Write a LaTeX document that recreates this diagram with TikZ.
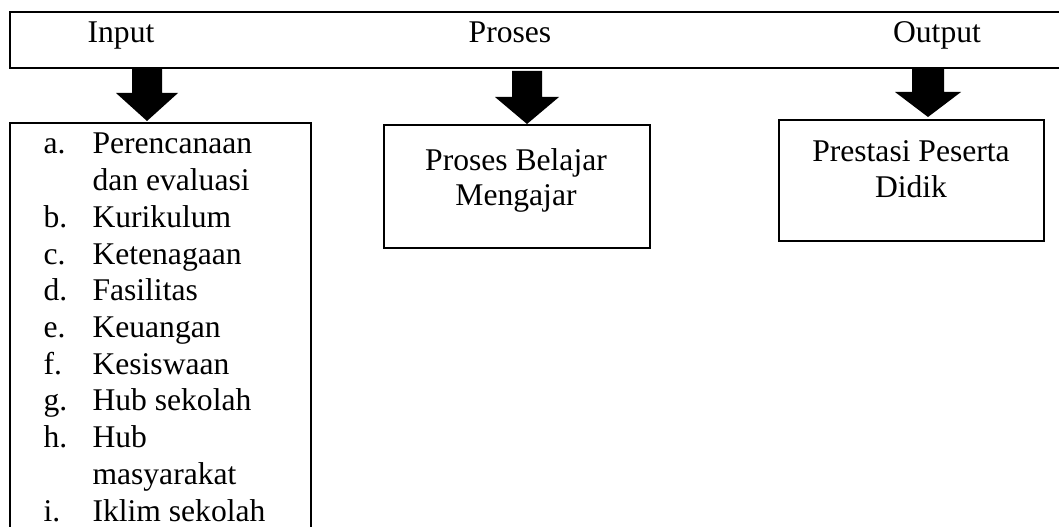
\documentclass[tikz,border=0pt]{standalone}
\usepackage{fontspec}
\setmainfont{Liberation Serif}
\newcommand\fatarr[6]{% center x, top y, head y, tip y, half shaft, half head
  \fill[black] (#1-#5,#2) -- (#1+#5,#2) -- (#1+#5,#3) -- (#1+#6,#3) -- (#1,#4)
    -- (#1-#6,#3) -- (#1-#5,#3) -- cycle;}
\begin{document}
\begin{tikzpicture}[x=0.75pt,y=-0.75pt,line width=0.8pt,
  txt/.style={font=\fontsize{23.7}{27.5}\selectfont, inner sep=0pt, anchor=base},
  item/.style={txt, anchor=base west},
  boxstyle/.style={draw, line width=1.2pt, inner sep=0pt, anchor=north west}]
\useasboundingbox (0,0) rectangle (1059,527);
\fill[white] (0,0) rectangle (1059,527);
% header band
\draw (1059,12) -- (10,12) -- (10,68) -- (1059,68);
\node[txt] (hin) at (121,43) {Input};
\node[txt] (hpr) at (510,43) {Proses};
\node[txt] (hout) at (937,43) {Output};
% arrows
\fatarr{147}{68}{93}{121}{15}{31}
\fatarr{527}{71}{97}{124}{15}{32}
\fatarr{928}{68}{92}{117}{16}{33}
% input box (open at the bottom)
\draw (10,528) -- (10,123) -- (311,123) -- (311,528);
\foreach \l/\t/\y in {a./Perencanaan/0, /dan evaluasi/1, b./Kurikulum/2, c./Ketenagaan/3,
  d./Fasilitas/4, e./Keuangan/5, f./Kesiswaan/6, g./Hub sekolah/7, h./Hub/8,
  /masyarakat/9, i./Iklim sekolah/10}{
  \node[item] at (43,154+36.7*\y) {\l};
  \node[item] at (92,154+36.7*\y) {\t};
}
% process box
\node[boxstyle, minimum width=199.5pt, minimum height=92.25pt] (pbox) at (383,124) {};
\node[txt] (p1) at (516,171) {Proses Belajar};
\node[txt] (p2) at (516,206) {Mengajar};
% output box
\node[boxstyle, minimum width=198.75pt, minimum height=90.75pt] (obox) at (778,119) {};
\node[txt] (o1) at (911,162) {Prestasi Peserta};
\node[txt] (o2) at (911,198) {Didik};
\end{tikzpicture}
\end{document}
